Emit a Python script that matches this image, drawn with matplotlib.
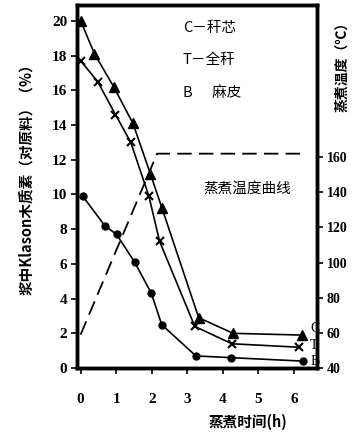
import matplotlib
matplotlib.use("Agg")
import matplotlib.pyplot as plt

plt.rcParams["font.family"] = ["Liberation Serif", "Noto Sans CJK SC", "DejaVu Sans"]
CJK = ["Noto Sans CJK SC", "DejaVu Sans"]

# ---------------------------------------------------------------------------
# Data
# ---------------------------------------------------------------------------
c_time = [0.0, 0.39, 0.93, 1.47, 1.96, 2.29, 3.32, 4.29, 6.23]
c_lig = [20.0, 18.1, 16.2, 14.1, 11.2, 9.2, 2.9, 2.0, 1.9]

t_time = [0.0, 0.48, 0.98, 1.41, 1.92, 2.22, 3.21, 4.25, 6.14]
t_lig = [17.7, 16.5, 14.6, 13.0, 9.9, 7.3, 2.4, 1.4, 1.2]

b_time = [0.06, 0.68, 1.01, 1.52, 1.99, 2.28, 3.24, 4.22, 6.25]
b_lig = [9.9, 8.2, 7.7, 6.1, 4.3, 2.5, 0.7, 0.6, 0.4]

temp_time = [0.0, 2.15, 6.2]
temp_c = [59, 162, 162]

x_ticks = [0, 1, 2, 3, 4, 5, 6]
left_ticks = [0, 2, 4, 6, 8, 10, 12, 14, 16, 18, 20]
right_ticks = [40, 60, 80, 100, 120, 140, 160]

# ---------------------------------------------------------------------------
# Figure
# ---------------------------------------------------------------------------
fig = plt.figure(figsize=(3.6, 4.32), dpi=100)
ax = fig.add_axes([0.214, 0.148, 0.667, 0.840])
ax2 = ax.twinx()

ax.plot(c_time, c_lig, color="black", lw=1.2, marker="^", ms=6.5)
ax.plot(t_time, t_lig, color="black", lw=1.2, marker="x", ms=6, mew=1.5)
ax.plot(b_time, b_lig, color="black", lw=1.2, marker="o", ms=5)
ax2.plot(temp_time, temp_c, color="black", lw=1.3, linestyle=(0, (8, 4)))

ax.set_xlim(-0.1, 6.65)
ax.set_ylim(0, 20.9)
ax2.set_ylim(40, 246.5)

ax.set_xticks(x_ticks)
ax.set_yticks(left_ticks)
ax2.set_yticks(right_ticks)

for a in (ax, ax2):
    for s in a.spines.values():
        s.set_linewidth(2.5)

ax.tick_params(axis="x", direction="out", length=4, width=1.2, pad=14, labelsize=11)
ax.tick_params(axis="y", direction="out", length=4, width=1.2, pad=3, labelsize=11)
ax2.tick_params(axis="y", direction="out", length=4, width=1.2, pad=3, labelsize=10)
for lbl in ax.get_xticklabels() + ax.get_yticklabels() + ax2.get_yticklabels():
    lbl.set_fontweight("bold")

ax.set_xlabel("蒸煮时间(h)", family=CJK, fontsize=10.5, fontweight="bold")
ax.xaxis.set_label_coords(0.71, -0.125)
ax.set_ylabel("浆中Klason木质素（对原料）（%）", family=CJK, fontsize=10.5,
              fontweight="bold")
ax.yaxis.set_label_coords(-0.18, 0.53)
ax2.set_ylabel("蒸煮温度（℃）", family=CJK, fontsize=10, fontweight="bold",
               rotation=90)
ax2.yaxis.set_label_coords(1.075, 0.84)

# legend-like notes
ax.text(2.87, 19.6, "C－秆芯", family=CJK, fontsize=10.5, va="center")
ax.text(2.87, 17.75, "T－全秆", family=CJK, fontsize=10.5, va="center")
ax.text(2.87, 15.85, "B      麻皮", family=CJK, fontsize=10.5, va="center")
ax.text(4.68, 10.3, "蒸煮温度曲线", family=CJK, fontsize=10.5, ha="center",
        va="center")

# curve end labels
ax.text(6.45, 2.25, "C", fontsize=10, va="center")
ax.text(6.45, 1.3, "T", fontsize=10, va="center")
ax.text(6.45, 0.35, "B", fontsize=10, va="center")

fig.savefig("out.png", dpi=100)
